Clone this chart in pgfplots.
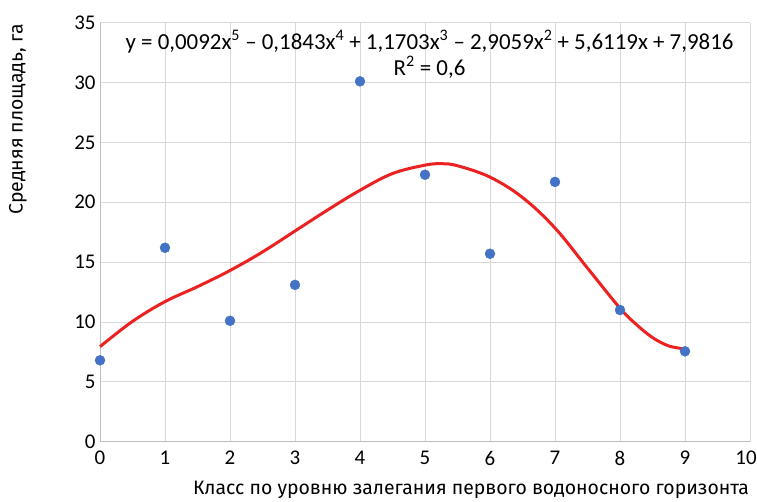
\documentclass[border=0pt]{standalone}
\usepackage{pgfplots}
\pgfplotsset{compat=1.18}
\usepackage{fontspec}
\setmainfont{Carlito}
\newfontfamily\labfont{Fira Sans}
\definecolor{ptblue}{RGB}{68,114,196}
\definecolor{trred}{RGB}{236,34,34}
\definecolor{gridgray}{RGB}{217,217,217}
\definecolor{axgray}{RGB}{191,191,191}
\begin{document}
\begin{tikzpicture}
\useasboundingbox (0,0) rectangle (757bp,502bp);
\begin{axis}[
  at={(100bp,60.3bp)}, anchor=south west,
  scale only axis, width=650bp, height=419bp,
  xmin=0, xmax=10, ymin=0, ymax=35,
  xtick={0,1,...,10}, ytick={0,5,...,35},
  xticklabels={0,1,2,3,4,5,6,7,8,9,{\kern-8bp 10}},
  grid=major,
  major grid style={gridgray, line width=0.9bp},
  axis line style={axgray, line width=1bp},
  axis x line*=bottom, axis y line*=left,
  tick style={draw=none},
  font=\fontsize{21}{24}\selectfont,
  /pgf/number format/assume math mode=true,
  xticklabel style={yshift=-6bp},
  yticklabel style={xshift=-1bp},
  clip=false,
]
\addplot[only marks, mark=*, mark size=5bp, mark options={fill=ptblue, draw=ptblue}] coordinates {
(0,6.8) (1,16.2) (2,10.1) (3,13.1) (4,30.1) (5,22.3) (6,15.7) (7,21.7) (8,11.0) (9,7.55)
};
\addplot[trred, line width=3bp, smooth, tension=0.6] coordinates {
(0,7.94) (0.5,10.05) (1,11.7) (1.5,12.95) (2,14.3) (2.5,15.85) (3,17.6) (3.5,19.35)
(4,21.0) (4.5,22.4) (5,23.1) (5.25,23.22) (5.5,23.05) (6,22.1) (6.5,20.4) (7,17.85)
(7.5,14.5) (8,11.15) (8.25,9.8) (8.5,8.7) (8.75,8.0) (9,7.75)
};
\node[font=\fontsize{23}{25.5}\selectfont, align=center, inner sep=0pt] at (rel axis cs:0.507,0.925)
  {y = 0,0092x\textsuperscript{5} – 0,1843x\textsuperscript{4} + 1,1703x\textsuperscript{3} – 2,9059x\textsuperscript{2} + 5,6119x + 7,9816\\R\textsuperscript{2} = 0,6};
\end{axis}
\node[font=\labfont\fontsize{19.5}{22}\selectfont, rotate=90] at (18bp,382.5bp) {Средняя площадь, га};
\node[font=\labfont\fontsize{19.5}{22}\selectfont] at (471bp,12bp) {Класс по уровню залегания первого водоносного горизонта};
\end{tikzpicture}
\end{document}
